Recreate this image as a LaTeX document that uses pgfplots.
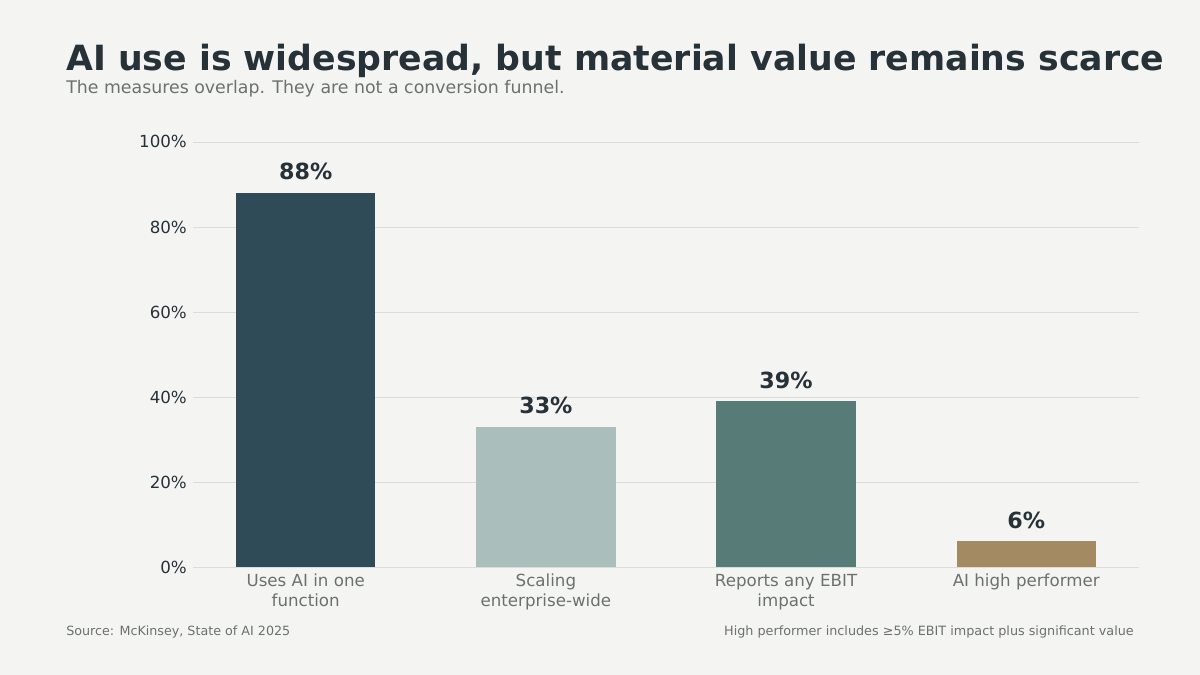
\documentclass[border=0pt]{standalone}
\usepackage{pgfplots}
\pgfplotsset{compat=1.18}
\usepackage{fontspec}
\setmainfont{DejaVu Sans}

\definecolor{bgc}{HTML}{F4F5F3}
\definecolor{ink}{HTML}{263238}
\definecolor{muted}{HTML}{6B7070}
\definecolor{gridc}{HTML}{DCDDDB}
\definecolor{c1}{HTML}{2F4B57}
\definecolor{c2}{HTML}{AABFBC}
\definecolor{c3}{HTML}{577B76}
\definecolor{c4}{HTML}{A38A63}

\begin{document}
\begin{tikzpicture}
% page = 1200x675 px, 1 px = 0.72 pt
\useasboundingbox (0pt,0pt) rectangle (864pt,486pt);
\fill[bgc] (0pt,0pt) rectangle (864pt,486pt);

\node[anchor=base west, inner sep=0, text=ink, font=\fontsize{25}{29}\selectfont\bfseries]
  at (47.5pt,435.2pt) {AI use is widespread, but material value remains scarce};
\node[anchor=base west, inner sep=0, text=muted, font=\fontsize{12.5}{15}\selectfont]
  at (47.5pt,419.0pt) {The measures overlap. They are not a conversion funnel.};

\begin{axis}[
    at={(139pt,77.8pt)}, anchor=south west,
    scale only axis,
    width=681pt, height=306pt,
    ybar, bar width=0.58, bar shift=0pt,
    xmin=-0.469, xmax=3.469,
    ymin=0, ymax=100,
    axis line style={draw=none},
    major tick length=0pt,
    xtick={0,1,2,3},
    xticklabels={{Uses AI in one\\function},{Scaling\\enterprise-wide},{Reports any EBIT\\impact},{AI high performer}},
    xticklabel style={align=center, text=muted, font=\fontsize{12}{14.5}\selectfont, inner sep=0pt, yshift=-5pt, anchor=north},
    ytick={0,20,40,60,80,100},
    yticklabels={0\%,20\%,40\%,60\%,80\%,100\%},
    yticklabel style={text=ink, font=\fontsize{12}{14}\selectfont, inner sep=0pt, xshift=-4.3pt, anchor=east},
    ymajorgrids, grid style={draw=gridc, line width=0.6pt},
    /pgf/number format/assume math mode=true,
    nodes near coords={\pgfmathprintnumber{\pgfplotspointmeta}\%},
    nodes near coords style={text=ink, font=\fontsize{16}{19}\selectfont\bfseries, anchor=south, yshift=5.6pt},
    every axis plot/.append style={draw=none},
  ]
  \addplot[fill=c1] coordinates {(0,88)};
  \addplot[fill=c2] coordinates {(1,33)};
  \addplot[fill=c3] coordinates {(2,39)};
  \addplot[fill=c4] coordinates {(3,6)};
\end{axis}

\node[anchor=base west, inner sep=0, text=muted, font=\fontsize{9.15}{11}\selectfont]
  at (47.5pt,28.1pt) {Source: McKinsey, State of AI 2025};
\node[anchor=base east, inner sep=0, text=muted, font=\fontsize{9.2}{11}\selectfont]
  at (816.5pt,28.1pt) {High performer includes ≥5\% EBIT impact plus significant value};
\end{tikzpicture}
\end{document}
